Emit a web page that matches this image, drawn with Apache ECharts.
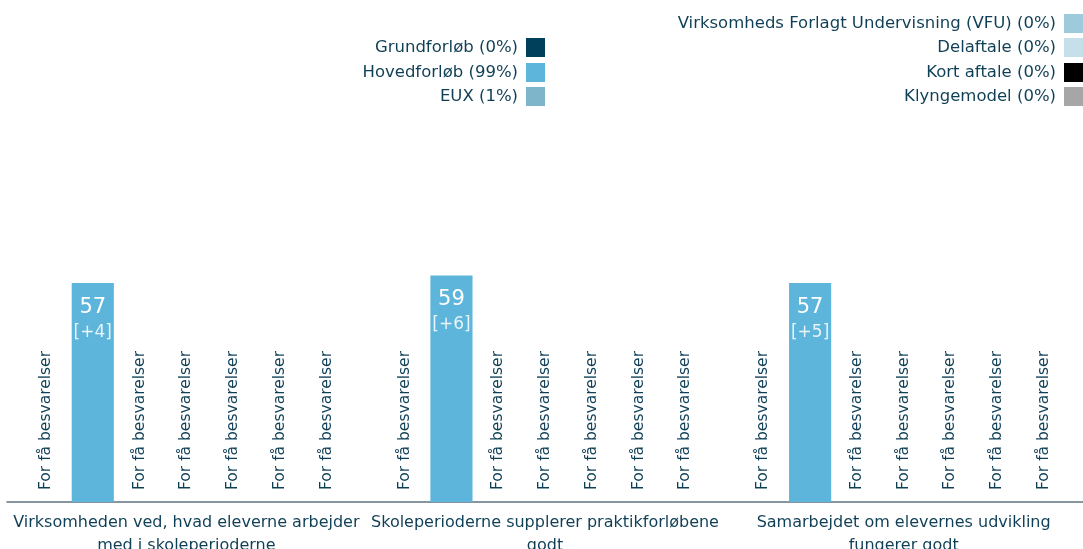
<!DOCTYPE html>
<html>
<head>
<meta charset="utf-8">
<script src="https://cdn.jsdelivr.net/npm/echarts@6/dist/echarts.min.js"></script>
<style>
  html, body { margin: 0; padding: 0; background: #fff; }
  #chart { width: 1083px; height: 549px; }
</style>
</head>
<body>
<div id="chart"></div>
<script>
var chartDom = document.getElementById('chart');
var myChart = echarts.init(chartDom);

var categories = [
    'Virksomheden ved, hvad eleverne arbejder\nmed i skoleperioderne',
    'Skoleperioderne supplerer praktikforløbene\ngodt',
    'Samarbejdet om elevernes udvikling\nfungerer godt'
];
var seriesNames = [
    'Grundforløb (0%)',
    'Hovedforløb (99%)',
    'EUX (1%)',
    'Virksomheds Forlagt Undervisning (VFU) (0%)',
    'Delaftale (0%)',
    'Kort aftale (0%)',
    'Klyngemodel (0%)'
];
var colors = ['#00405a', '#5db5db', '#7fb5cb', '#9ecbdb', '#c6e0ea', '#000000', '#a6a6a6'];
// null = for få besvarelser
var values = [
    [null, null, null],
    [57, 59, 57],
    [null, null, null],
    [null, null, null],
    [null, null, null],
    [null, null, null],
    [null, null, null]
];
var changes = ['+4', '+6', '+5'];

var textColor = '#0f3f56';
var fontFamily = 'DejaVu Sans';

var series = seriesNames.map(function (name, i) {
    return {
        name: name,
        type: 'bar',
        barGap: '11%',
        barCategoryGap: '10%',
        itemStyle: { color: colors[i] },
        data: values[i].map(function (v, j) {
            if (v === null) {
                return {
                    value: 0,
                    label: {
                        show: true,
                        position: 'insideBottom',
                        rotate: 90,
                        align: 'left',
                        verticalAlign: 'middle',
                        distance: 12,
                        formatter: 'For få besvarelser',
                        color: textColor,
                        fontSize: 15.5,
                        fontFamily: fontFamily
                    }
                };
            }
            return {
                value: v,
                label: {
                    show: true,
                    position: 'insideTop',
                    distance: 12,
                    formatter: '{a|' + v + '}\n{b|[' + changes[j] + ']}',
                    rich: {
                        a: { color: '#fff', fontSize: 21, lineHeight: 25, fontFamily: fontFamily },
                        b: { color: 'rgba(255,255,255,0.85)', fontSize: 17, lineHeight: 24, fontFamily: fontFamily }
                    }
                }
            };
        })
    };
});

// one legend per item so the rows line up on the right edge
var legendPos = [
    { right: 538, top: 38 },
    { right: 538, top: 63 },
    { right: 538, top: 87 },
    { right: 0, top: 14 },
    { right: 0, top: 38 },
    { right: 0, top: 63 },
    { right: 0, top: 87 }
];
var legends = seriesNames.map(function (name, i) {
    return {
        data: [name],
        right: legendPos[i].right,
        top: legendPos[i].top,
        align: 'right',
        padding: 0,
        itemWidth: 19,
        itemHeight: 19,
        icon: 'rect',
        selectedMode: false,
        textStyle: { color: textColor, fontSize: 16.5, fontFamily: fontFamily, padding: [0, 3, 0, 0] }
    };
});

var option = {
    animation: false,
    legend: legends,
    grid: { left: 7, right: 0, top: 118, bottom: 47, outerBoundsMode: 'none', containLabel: false },
    xAxis: {
        type: 'category',
        data: categories,
        axisLine: { lineStyle: { color: '#5f7381', width: 1.5 } },
        axisTick: { show: false },
        axisLabel: {
            color: textColor,
            fontSize: 16,
            lineHeight: 23,
            margin: 9,
            interval: 0,
            fontFamily: fontFamily
        }
    },
    yAxis: {
        type: 'value',
        min: 0,
        max: 100,
        show: false
    },
    series: series
};

myChart.setOption(option);
</script>
</body>
</html>
